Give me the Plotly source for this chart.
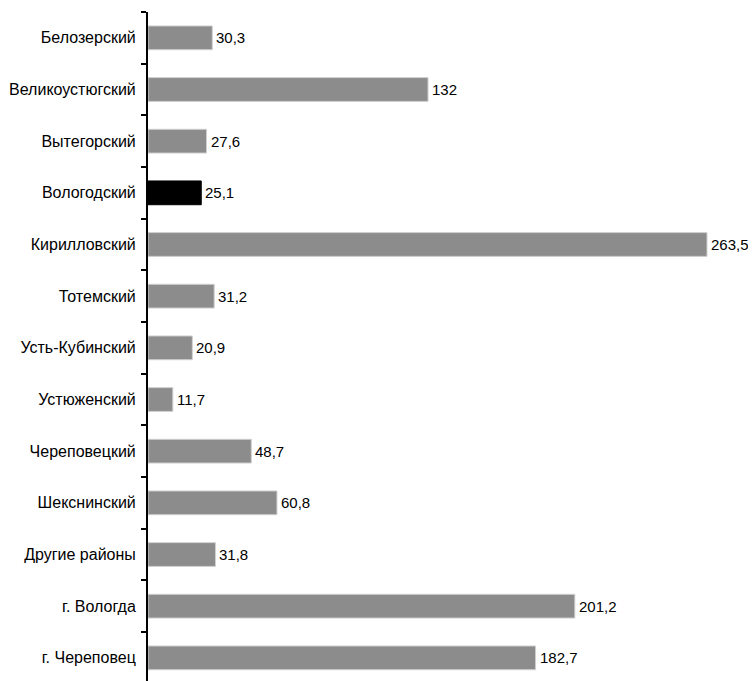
import plotly.graph_objects as go

categories = ["Белозерский", "Великоустюгский", "Вытегорский", "Вологодский",
              "Кирилловский", "Тотемский", "Усть-Кубинский", "Устюженский",
              "Череповецкий", "Шекснинский", "Другие районы", "г. Вологда",
              "г. Череповец"]
values = [30.3, 132, 27.6, 25.1, 263.5, 31.2, 20.9, 11.7, 48.7, 60.8, 31.8, 201.2, 182.7]
labels = ["30,3", "132", "27,6", "25,1", "263,5", "31,2", "20,9", "11,7",
          "48,7", "60,8", "31,8", "201,2", "182,7"]
highlight = "Вологодский"

FONT = "Liberation Sans, Arial"
colors = ["#000000" if c == highlight else "#8c8c8c" for c in categories]
line_colors = ["#000000" if c == highlight else "#d0d0d0" for c in categories]

fig = go.Figure(go.Bar(
    y=categories, x=values, orientation="h",
    marker=dict(color=colors, line=dict(color=line_colors, width=1)),
    width=0.46, cliponaxis=False,
))

for c, v, t in zip(categories, values, labels):
    fig.add_annotation(x=v, y=c, text=t, showarrow=False, xanchor="left",
                       xshift=3, borderpad=0,
                       font=dict(family=FONT, size=15, color="#000"))

fig.update_layout(
    width=756, height=673,
    margin=dict(l=140, r=8, t=4, b=0),
    plot_bgcolor="white", paper_bgcolor="white",
    showlegend=False,
    font=dict(family=FONT, size=16, color="#000"),
    xaxis=dict(range=[0, 286.6], visible=False, automargin=False),
    yaxis=dict(
        range=[12.448, -0.5], type="category", automargin=False,
        showline=True, linecolor="#000", linewidth=2,
        ticks="outside", tickson="boundaries", ticklen=5, tickwidth=2, tickcolor="#000",
        ticklabelstandoff=7,
        showgrid=False, zeroline=False,
    ),
)

fig.write_html("out.html")
